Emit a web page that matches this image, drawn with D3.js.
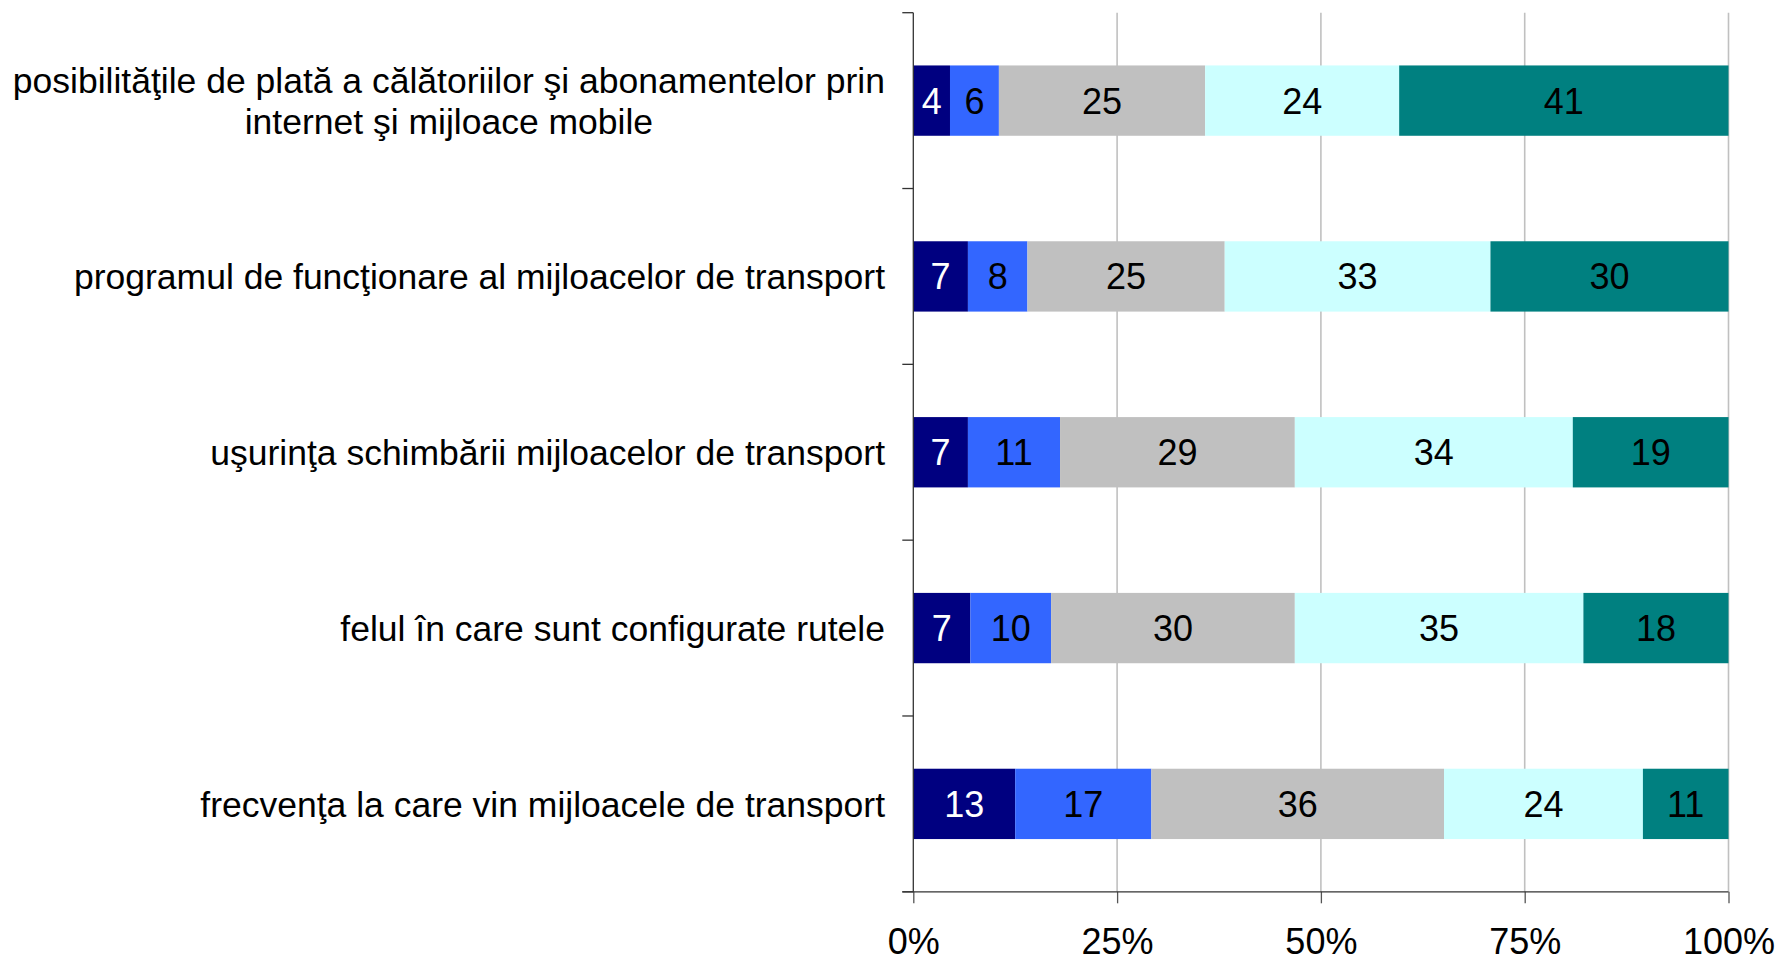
<!DOCTYPE html>
<html>
<head>
<meta charset="utf-8">
<script src="https://cdn.jsdelivr.net/npm/d3@7"></script>
<style>
html,body{margin:0;padding:0;background:#fff;}
svg{display:block;font-family:"Liberation Sans",Arial,sans-serif;}
</style>
</head>
<body>
<svg id="chart" width="1780" height="959"></svg>
<script>
const categories = [
  ["posibilităţile de plată a călătoriilor şi abonamentelor prin", "internet şi mijloace mobile"],
  ["programul de funcţionare al mijloacelor de transport"],
  ["uşurinţa schimbării mijloacelor de transport"],
  ["felul în care sunt configurate rutele"],
  ["frecvenţa la care vin mijloacele de transport"]
];
// segment shares (%)
const series1 = [4.5, 6.7, 6.7, 7.0, 12.5];
const series2 = [6.0, 7.3, 11.3, 9.9, 16.7];
const series3 = [25.3, 24.2, 28.8, 29.9, 35.9];
const series4 = [23.8, 32.6, 34.1, 35.4, 24.4];
const series5 = [40.4, 29.2, 19.1, 17.8, 10.5];
// printed data labels
const labels1 = [4, 7, 7, 7, 13];
const labels2 = [6, 8, 11, 10, 17];
const labels3 = [25, 25, 29, 30, 36];
const labels4 = [24, 33, 34, 35, 24];
const labels5 = [41, 30, 19, 18, 11];
const xTicks = [0, 0.25, 0.5, 0.75, 1];
const xTickLabels = ["0%", "25%", "50%", "75%", "100%"];
const colors = ["#000080", "#3366FF", "#C0C0C0", "#CCFFFF", "#008080"];
const labelColors = ["#fff", "#000", "#000", "#000", "#000"];

const allSeries = [series1, series2, series3, series4, series5];
const allLabels = [labels1, labels2, labels3, labels4, labels5];
const rows = categories.map((c, i) => {
  const vals = allSeries.map(s => s[i]);
  const total = d3.sum(vals);
  let cum = 0;
  const segs = vals.map((v, k) => {
    const s = {k, v, lab: allLabels[k][i], x0: cum / total, x1: (cum + v) / total};
    cum += v;
    return s;
  });
  return {i, label: c, segs};
});

const svg = d3.select("#chart");
const pLeft = 913.3, pRight = 1728.5, pTop = 12.7, pBottom = 891.8;
const x = d3.scaleLinear().domain([0, 1]).range([pLeft, pRight]);
const y = d3.scaleBand().domain(d3.range(categories.length)).range([pTop, pBottom]).paddingInner(0.6).paddingOuter(0.3);

// gridlines
svg.append("g").selectAll("line").data(xTicks.filter(t => t > 0)).join("line")
  .attr("x1", d => x(d)).attr("x2", d => x(d))
  .attr("y1", pTop).attr("y2", pBottom)
  .attr("stroke", "#C0C0C0").attr("stroke-width", 1.6);

// bars
const g = svg.append("g");
const rowG = g.selectAll("g.row").data(rows).join("g").attr("class", "row");
rowG.selectAll("rect").data(d => d.segs.map(s => ({...s, i: d.i}))).join("rect")
  .attr("x", d => x(d.x0)).attr("width", d => x(d.x1) - x(d.x0))
  .attr("y", d => y(d.i)).attr("height", y.bandwidth())
  .attr("fill", d => colors[d.k]);
rowG.selectAll("text").data(d => d.segs.map(s => ({...s, i: d.i}))).join("text")
  .attr("x", d => (x(d.x0) + x(d.x1)) / 2)
  .attr("y", d => y(d.i) + y.bandwidth() / 2)
  .attr("dy", "0.36em")
  .attr("text-anchor", "middle")
  .attr("font-size", 36)
  .attr("fill", d => labelColors[d.k])
  .text(d => d.lab);

// x axis
const xAxis = d3.axisBottom(x).tickValues(xTicks).tickFormat((d, i) => xTickLabels[i]).tickSize(11.5).tickPadding(25);
const xg = svg.append("g").attr("transform", `translate(0,${pBottom})`).call(xAxis);
xg.select(".domain").remove();
xg.append("line").attr("x1", pLeft - 11).attr("x2", pRight).attr("y1", 0).attr("y2", 0).attr("stroke", "#333").attr("stroke-width", 1.3);
xg.selectAll(".tick line").attr("stroke", "#555").attr("stroke-width", 1.3);
xg.selectAll(".tick text").attr("font-size", 36).attr("fill", "#000").attr("font-family", "Liberation Sans, Arial, sans-serif");

// y axis
const step = y.step();
const yTickPos = d3.range(categories.length + 1).map(i => pTop + i * step);
svg.append("line").attr("x1", pLeft).attr("x2", pLeft).attr("y1", pTop).attr("y2", pBottom).attr("stroke", "#333").attr("stroke-width", 1.3);
svg.append("g").selectAll("line").data(yTickPos).join("line")
  .attr("x1", pLeft - 11).attr("x2", pLeft).attr("y1", d => d).attr("y2", d => d)
  .attr("stroke", "#333").attr("stroke-width", 1.3);

// category labels
const lab = svg.append("g").selectAll("text").data(rows).join("text")
  .attr("text-anchor", "middle")
  .attr("font-size", 35.5)
  .attr("fill", "#000");
lab.each(function(d) {
  const t = d3.select(this);
  const n = d.label.length;
  const cy = y(d.i) + y.bandwidth() / 2;
  const lh = 40.5;
  d.label.forEach((line, j) => {
    t.append("tspan").attr("x", 0).attr("y", cy + (j - (n - 1) / 2) * lh).attr("dy", "0.36em").text(line);
  });
});
lab.each(function(d) {
  const t = d3.select(this);
  const widths = [];
  t.selectAll("tspan").each(function() { widths.push(this.getComputedTextLength()); });
  const w = d3.max(widths);
  const cx = 885 - w / 2;
  t.selectAll("tspan").attr("x", cx);
});
</script>
</body>
</html>
